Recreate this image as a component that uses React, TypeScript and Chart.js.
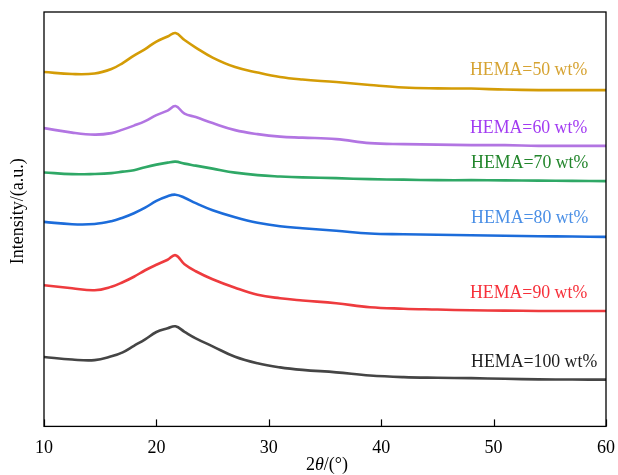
import React, { useEffect, useRef } from "react";
import { Chart, registerables } from "chart.js";

Chart.register(...registerables);

// 2θ positions (degrees)
const twoTheta = [10, 12.5, 14.5, 16, 17, 18, 19, 20, 21, 21.7, 22.5, 23.5, 25, 27, 29, 31, 33, 36, 39, 42, 45, 48, 51, 54, 57, 60];

// Intensity (a.u., stacked offsets as shown)
const hema50 = [354, 352, 352.5, 357, 363, 370.5, 377, 384.5, 389.5, 393, 386, 378.5, 368.5, 359, 353.5, 349, 346.5, 344, 341, 338.5, 337.7, 337.5, 336.5, 336, 336, 336];
const hema60 = [298, 293.5, 291.5, 293, 296.5, 300.5, 305, 311, 315.5, 320, 312.5, 309, 303, 296, 292, 289.5, 288.5, 287, 283, 282, 281.5, 281, 281, 280.3, 280.3, 280.3];
const hema70 = [253.7, 252, 252.2, 253, 254.5, 256, 259, 261.5, 263.5, 264.5, 262.5, 260.5, 257.5, 253.5, 251, 249.7, 248.8, 248, 247, 246.5, 246, 246, 245.8, 245.5, 245.3, 245];
const hema80 = [204.3, 202, 202.2, 205, 208.5, 213, 218.5, 225.3, 230, 231.5, 228.5, 223, 216, 209, 203.5, 200, 198, 195.5, 192.7, 192, 191.5, 191, 190.5, 190, 189.7, 189.3];
const hema90 = [141, 138, 136, 139.5, 144, 149.5, 156, 161.5, 166.5, 171, 162, 155, 147, 138.5, 131.5, 128, 125.8, 123, 119, 117.6, 116.8, 116, 115.7, 115.3, 115.3, 115.3];
const hema100 = [69.3, 66.8, 66.2, 70, 74, 80.5, 87, 94.3, 98, 100, 94.5, 88, 80, 69.5, 63, 59, 56.5, 54, 50.8, 49.2, 48.6, 48.2, 47.6, 47, 46.8, 46.7];

const seriesNames = ["HEMA=50 wt%", "HEMA=60 wt%", "HEMA=70 wt%", "HEMA=80 wt%", "HEMA=90 wt%", "HEMA=100 wt%"];
const seriesValues = [hema50, hema60, hema70, hema80, hema90, hema100];
const lineColors = ["#D49C06", "#B275E2", "#2FA866", "#1C6CDA", "#EE3B3E", "#454545"];
const labelColors = ["#D6A332", "#A23BF2", "#23862C", "#4A8FE6", "#F7303A", "#1E1E1E"];

// label anchors (data coords: left x, centre y)
const labelX = [47.9, 47.9, 48.0, 48.0, 47.9, 48.0];
const labelY = [356, 298, 263, 208, 133.3, 64.3];

const xTicks = [10, 20, 30, 40, 50, 60];

const SERIF = "'Liberation Serif', 'Times New Roman', serif";

export default function App() {
  const ref = useRef<HTMLCanvasElement | null>(null);

  useEffect(() => {
    if (!ref.current) return;

    const decor = {
      id: "decor",
      afterDatasetsDraw(chart: any) {
        const { ctx, chartArea: a, scales } = chart;
        const xs = scales.x;
        const ys = scales.y;
        ctx.save();
        // frame
        ctx.strokeStyle = "#000";
        ctx.lineWidth = 1.3;
        ctx.strokeRect(a.left, a.top, a.right - a.left, a.bottom - a.top);
        // inward ticks on bottom axis
        ctx.lineWidth = 1.2;
        for (const t of xTicks) {
          const px = Math.round(xs.getPixelForValue(t)) + 0.5;
          ctx.beginPath();
          ctx.moveTo(px, a.bottom);
          ctx.lineTo(px, a.bottom - 7);
          ctx.stroke();
        }
        // series labels
        ctx.font = `17.8px ${SERIF}`;
        ctx.textBaseline = "middle";
        ctx.textAlign = "left";
        seriesNames.forEach((n, i) => {
          ctx.fillStyle = labelColors[i];
          ctx.fillText(n, xs.getPixelForValue(labelX[i]), ys.getPixelForValue(labelY[i]));
        });
        // x title: 2θ/(°)
        const parts = [
          { t: "2", f: `18px ${SERIF}` },
          { t: "θ", f: `italic 18px ${SERIF}` },
          { t: "/(°)", f: `18px ${SERIF}` },
        ];
        let w = 0;
        for (const p of parts) { ctx.font = p.f; w += ctx.measureText(p.t).width; }
        let x = (a.left + a.right) / 2 - w / 2 + 2;
        const y = a.bottom + 39;
        ctx.fillStyle = "#000";
        for (const p of parts) { ctx.font = p.f; ctx.fillText(p.t, x, y); x += ctx.measureText(p.t).width; }
        // y title
        ctx.save();
        ctx.translate(a.left - 26, (a.top + a.bottom) / 2 - 8);
        ctx.rotate(-Math.PI / 2);
        ctx.textAlign = "center";
        ctx.font = `18px ${SERIF}`;
        ctx.fillText("Intensity/(a.u.)", 0, 0);
        ctx.restore();
        ctx.restore();
      },
    };

    const chart = new Chart(ref.current, {
      type: "line",
      data: {
        datasets: seriesNames.map((n, i) => ({
          label: n,
          data: twoTheta.map((x, j) => ({ x, y: seriesValues[i][j] })),
          borderColor: lineColors[i],
          backgroundColor: lineColors[i],
          borderWidth: 2.6,
          pointRadius: 0,
          tension: 0.4,
        })),
      },
      options: {
        animation: false,
        responsive: false,
        layout: { padding: { left: 44, right: 12, top: 12, bottom: 5 } },
        plugins: { legend: { display: false }, tooltip: { enabled: false } },
        scales: {
          x: {
            type: "linear",
            min: 10,
            max: 60,
            afterBuildTicks: (s: any) => { s.ticks = xTicks.map((v) => ({ value: v })); },
            afterFit: (s: any) => { s.paddingLeft = 0; s.paddingRight = 0; },
            grid: { display: false, drawTicks: false },
            border: { display: false },
            ticks: { color: "#000", font: { family: SERIF, size: 18 }, padding: 11, maxRotation: 0 },
          },
          y: {
            display: false,
            min: 0,
            max: 414,
          },
        },
      },
      plugins: [decor],
    });
    return () => chart.destroy();
  }, []);

  return (
    <div style={{ position: "fixed", left: 0, top: 0, width: 618, height: 475, background: "#fff" }}>
      <canvas ref={ref} width={618} height={475} style={{ display: "block" }} />
    </div>
  );
}
